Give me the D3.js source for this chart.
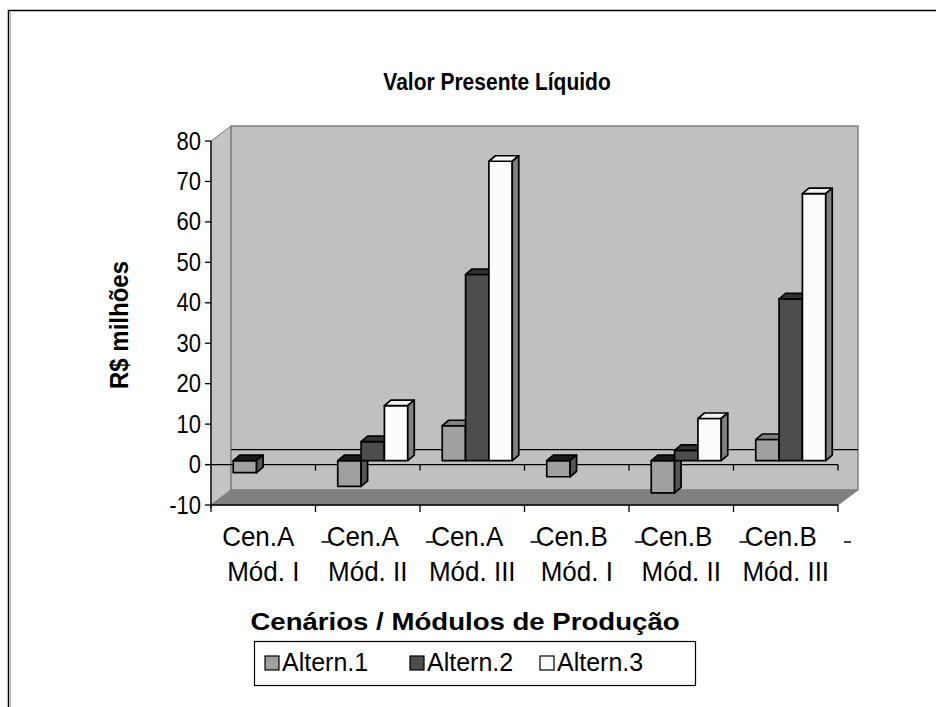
<!DOCTYPE html>
<html>
<head>
<meta charset="utf-8">
<script src="https://cdn.jsdelivr.net/npm/d3@7/dist/d3.min.js"></script>
<style>
  body { margin: 0; background: #fff; }
  text { font-family: "Liberation Sans", Arial, sans-serif; fill: #000; }
</style>
</head>
<body>
<div class="canvas"></div>
<script>
// data
const catLine1 = ['Cen.A', 'Cen.A', 'Cen.A', 'Cen.B', 'Cen.B', 'Cen.B'];
const catLine2 = ['Mód. I', 'Mód. II', 'Mód. III', 'Mód. I', 'Mód. II', 'Mód. III'];
const seriesNames = ['Altern.1', 'Altern.2', 'Altern.3'];
const altern1 = [-3, -6.4, 8.6, -4, -8, 5.2];
const altern2 = [null, 4.7, 46, null, 2.5, 40];
const altern3 = [null, 13.6, 74, null, 10.4, 66];
const yTicks = [-10, 0, 10, 20, 30, 40, 50, 60, 70, 80];

const seriesValues = [altern1, altern2, altern3];
// front / top / side colours per series
const faceCol = ['#a0a0a0', '#4d4d4d', '#fcfcfc'];
const topCol = ['#808080', '#333333', '#f2f2f2'];
const topNegCol = ['#1a1a1a', '#1a1a1a', '#808080'];
const sideCol = ['#555555', '#2b2b2b', '#808080'];

const width = 936, height = 707;
const plot = { left: 211, right: 838, top: 141, bottom: 505 };
const wall = { dx: 20, dy: -15 };      // depth of the floor / walls
const barOff = { dx: 5, dy: -4 };      // bar front face sits a bit back
const barDepth = { dx: 6.5, dy: -5.5 };

const svg = d3.select('.canvas')
  .append('svg')
  .attr('width', width)
  .attr('height', height);

// text is a little stretched in the original, so scale it
const label = (x, y, str, size, opts = {}) => {
  const t = svg.append('text')
    .attr('transform', `translate(${x},${y}) ${opts.rotate ? 'rotate(-90)' : ''} scale(${opts.sx || 1},${opts.sy || 1.12})`)
    .attr('text-anchor', opts.anchor || 'middle')
    .attr('font-size', size)
    .text(str);
  if (opts.bold) t.attr('font-weight', 'bold');
  if (opts.central) t.attr('dominant-baseline', 'central');
  return t;
};

// outer chart frame
svg.append('rect')
  .attr('x', 8.5).attr('y', 10.5)
  .attr('width', 1000).attr('height', 800)
  .attr('fill', 'none').attr('stroke', '#000').attr('stroke-width', 1.5);
svg.append('line')
  .attr('x1', 10.5).attr('x2', 10.5).attr('y1', 12).attr('y2', height)
  .attr('stroke', '#bbb');

const y = d3.scaleLinear().domain([-10, 80]).range([plot.bottom, plot.top]);
const x0 = d3.scaleBand().domain(d3.range(catLine1.length)).range([plot.left, plot.right]);
const bw = x0.bandwidth();
const gw = bw * 0.67;
const x1 = d3.scaleBand().domain(d3.range(seriesNames.length)).range([(bw - gw) / 2, (bw + gw) / 2]);

const pts = arr => arr.map(p => p.join(',')).join(' ');

// walls and floor
const yTop = y(80), yBot = y(-10);
svg.append('polygon')
  .attr('points', pts([[plot.left, yTop], [plot.left + wall.dx, yTop + wall.dy], [plot.left + wall.dx, yBot + wall.dy], [plot.left, yBot]]))
  .attr('fill', '#c4c4c4').attr('stroke', '#808080');
svg.append('rect')
  .attr('x', plot.left + wall.dx).attr('y', yTop + wall.dy)
  .attr('width', plot.right - plot.left).attr('height', yBot - yTop)
  .attr('fill', '#c0c0c0').attr('stroke', '#808080').attr('stroke-width', 1.5);
svg.append('polygon')
  .attr('points', pts([[plot.left, yBot], [plot.left + wall.dx, yBot + wall.dy], [plot.right + wall.dx, yBot + wall.dy], [plot.right, yBot]]))
  .attr('fill', '#808080').attr('stroke', '#808080');

// zero plane edges
svg.append('line')
  .attr('x1', plot.left + wall.dx).attr('x2', plot.right + wall.dx)
  .attr('y1', y(0) + wall.dy).attr('y2', y(0) + wall.dy)
  .attr('stroke', '#000').attr('stroke-width', 1.3);
svg.append('line')
  .attr('x1', plot.left - 6).attr('x2', plot.right)
  .attr('y1', y(0)).attr('y2', y(0))
  .attr('stroke', '#000').attr('stroke-width', 1.3);
d3.range(1, catLine1.length + 1).forEach(i => {
  const xx = plot.left + i * bw;
  svg.append('line')
    .attr('x1', xx).attr('x2', xx).attr('y1', y(0)).attr('y2', y(0) + 6)
    .attr('stroke', '#000').attr('stroke-width', 1.3);
});

// bars, drawn left to right so each front covers the neighbour's side
const bars = svg.append('g');
catLine1.forEach((c, i) => {
  seriesValues.forEach((vals, s) => {
    const v = vals[i];
    if (v == null) return;
    const xa = x0(i) + x1(s) + barOff.dx;
    const xb = xa + x1.bandwidth();
    const top = y(Math.max(v, 0)) + barOff.dy;
    const bot = y(Math.min(v, 0)) + barOff.dy;
    const g = bars.append('g')
      .attr('stroke', '#000').attr('stroke-width', 1.7).attr('stroke-linejoin', 'round');
    g.append('rect')
      .attr('x', xa).attr('y', top).attr('width', xb - xa).attr('height', bot - top)
      .attr('fill', faceCol[s]);
    g.append('polygon')
      .attr('points', pts([[xa, top], [xa + barDepth.dx, top + barDepth.dy], [xb + barDepth.dx, top + barDepth.dy], [xb, top]]))
      .attr('fill', v < 0 ? topNegCol[s] : topCol[s]);
    g.append('polygon')
      .attr('points', pts([[xb, top], [xb + barDepth.dx, top + barDepth.dy], [xb + barDepth.dx, bot + barDepth.dy], [xb, bot]]))
      .attr('fill', sideCol[s]);
  });
});

// value axis
svg.append('line')
  .attr('x1', plot.left).attr('x2', plot.left).attr('y1', yTop).attr('y2', yBot + 3)
  .attr('stroke', '#000').attr('stroke-width', 1.3);
yTicks.forEach(t => {
  svg.append('line')
    .attr('x1', plot.left - 6).attr('x2', plot.left).attr('y1', y(t)).attr('y2', y(t))
    .attr('stroke', '#000').attr('stroke-width', 1.3);
  label(plot.left - 10, y(t), t, 22, { anchor: 'end', central: true, sy: 1.15 });
});

// category axis
svg.append('line')
  .attr('x1', plot.left).attr('x2', plot.right).attr('y1', yBot).attr('y2', yBot)
  .attr('stroke', '#000').attr('stroke-width', 1.3);
d3.range(0, catLine1.length + 1).forEach(i => {
  const xx = plot.left + i * bw;
  svg.append('line')
    .attr('x1', xx).attr('x2', xx).attr('y1', yBot).attr('y2', yBot + 7)
    .attr('stroke', '#000').attr('stroke-width', 1.3);
});
catLine1.forEach((c, i) => {
  const cx = x0(i) + bw / 2;
  label(cx - 5, 546, c, 26, { sy: 1.08 });
  label(cx, 581, catLine2[i], 26, { sy: 1.08 });
  if (i > 0) {
    svg.append('line')
      .attr('x1', x0(i) + 6).attr('x2', x0(i) + 14).attr('y1', 542).attr('y2', 542)
      .attr('stroke', '#000').attr('stroke-width', 1.5);
  }
});
svg.append('line')
  .attr('x1', plot.right + 6).attr('x2', plot.right + 13).attr('y1', 542).attr('y2', 542)
  .attr('stroke', '#000').attr('stroke-width', 1.5);

// titles
label(497, 90, 'Valor Presente Líquido', 21, { bold: true, sy: 1.12 });
label(128, 325, 'R$ milhões', 24, { bold: true, rotate: true, sy: 1.05 });
label(465, 630, 'Cenários / Módulos de Produção', 23, { bold: true, sx: 1.2, sy: 1.05 });

// legend
svg.append('rect')
  .attr('x', 254.5).attr('y', 641.5).attr('width', 441).attr('height', 44)
  .attr('fill', '#fff').attr('stroke', '#000').attr('stroke-width', 1.2);
const legX = [265, 410, 540];
seriesNames.forEach((n, s) => {
  svg.append('rect')
    .attr('x', legX[s]).attr('y', 656).attr('width', 14).attr('height', 14)
    .attr('fill', faceCol[s]).attr('stroke', '#000').attr('stroke-width', 1.2);
  label(legX[s] + 17, 671, n, 25, { anchor: 'start', sy: 1.05 });
});
</script>
</body>
</html>
